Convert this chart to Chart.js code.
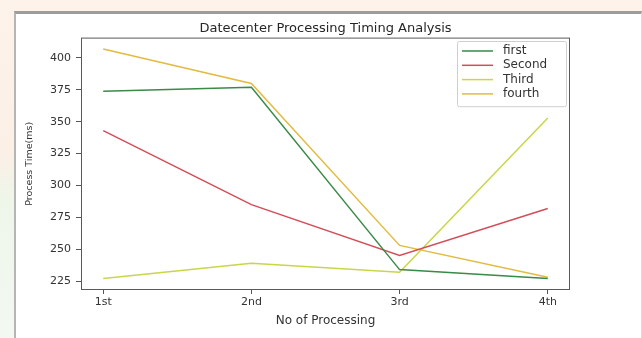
<!DOCTYPE html>
<html>
<head>
<meta charset="utf-8">
<script src="https://cdn.jsdelivr.net/npm/chart.js@4"></script>
<style>
  html, body { margin: 0; padding: 0; background: #fff; }
  body { width: 642px; height: 338px; position: relative; overflow: hidden;
         background: linear-gradient(to bottom, #fdf3ea 0%, #fbefe6 45%, #eef6ea 60%, #f3f8f1 100%); }
  #frame { position: absolute; left: 14px; top: 11px; width: 625px; height: 324px;
           background: #fff; border-top: 3px solid #9c9c9c; border-left: 2px solid #b5b5b5;
           border-right: 1px solid #dcdcdc; border-bottom: 1px solid #e4e4e4; }
  #chart { position: absolute; left: 0; top: 0; }
</style>
</head>
<body>
<div id="frame"></div>
<canvas id="chart" width="642" height="338"></canvas>
<script>
// Werte
const categories = ['1st', '2nd', '3rd', '4th'];
const first = [374, 377, 234, 227];
const second = [343, 285, 245, 282];
const third = [227, 239, 232, 353];
const fourth = [407, 380, 253, 228];
const seriesNames = ['first', 'Second', 'Third', 'fourth'];
const yTickStep = 25;

const font = "'DejaVu Sans', sans-serif";

function points(values) {
    return values.map((v, i) => ({ x: i, y: v }));
}

// Rahmen der Achsen und Legende im matplotlib-Stil
const boxPlugin = {
    id: 'box',
    afterDraw(chart) {
        const { ctx, chartArea: a } = chart;
        ctx.save();
        ctx.strokeStyle = '#5a5a5a';
        ctx.lineWidth = 1;
        ctx.strokeRect(a.left + 0.5, a.top + 0.5, a.right - a.left - 1, a.bottom - a.top - 1);

        // Legende
        const sets = chart.data.datasets;
        const bx = 457, by = 41, bw = 109, rowH = 14.3;
        const bh = sets.length * rowH + 8;
        ctx.fillStyle = 'rgba(255,255,255,0.85)';
        ctx.strokeStyle = '#cfcfcf';
        ctx.beginPath();
        ctx.roundRect(bx + 0.5, by + 0.5, bw, bh, 2);
        ctx.fill();
        ctx.stroke();
        ctx.font = '12px ' + font;
        ctx.textBaseline = 'middle';
        sets.forEach((ds, i) => {
            const y = by + 10 + i * rowH;
            ctx.strokeStyle = ds.borderColor;
            ctx.lineWidth = 1.5;
            ctx.beginPath();
            ctx.moveTo(bx + 5, y);
            ctx.lineTo(bx + 36, y);
            ctx.stroke();
            ctx.fillStyle = '#333';
            ctx.fillText(ds.label, bx + 46, y);
        });
        ctx.restore();
    }
};

new Chart(document.getElementById('chart'), {
    type: 'line',
    data: {
        datasets: [
            { label: seriesNames[0], data: points(first), borderColor: '#3a8a48' },
            { label: seriesNames[1], data: points(second), borderColor: '#d44d58' },
            { label: seriesNames[2], data: points(third), borderColor: '#c8d648' },
            { label: seriesNames[3], data: points(fourth), borderColor: '#e2bb40' }
        ]
    },
    options: {
        responsive: false,
        animation: false,
        layout: { padding: { left: 20, top: 12, right: 72, bottom: 6 } },
        elements: {
            line: { borderWidth: 1.5, tension: 0 },
            point: { radius: 0 }
        },
        plugins: {
            legend: { display: false },
            tooltip: { enabled: false },
            title: {
                display: true,
                fullSize: false,
                text: 'Datecenter Processing Timing Analysis',
                color: '#262626',
                font: { family: font, size: 13, weight: 'normal' },
                padding: { top: 9, bottom: 1 }
            }
        },
        scales: {
            x: {
                type: 'linear',
                min: -0.15,
                max: 3.15,
                afterFit(scale) { scale.height = 42; },
                border: { display: false },
                grid: { drawOnChartArea: false, drawTicks: true, tickLength: 4, color: '#555' },
                ticks: {
                    stepSize: 1,
                    includeBounds: false,
                    padding: 2,
                    color: '#333',
                    font: { family: font, size: 11 },
                    callback: v => categories[v]
                },
                title: {
                    display: true,
                    text: 'No of Processing',
                    color: '#333',
                    font: { family: font, size: 12 },
                    padding: { top: 0, bottom: 4 }
                }
            },
            y: {
                min: 218,
                max: 416,
                afterFit(scale) { scale.width = 61; },
                border: { display: false },
                grid: { drawOnChartArea: false, drawTicks: true, tickLength: 5, color: '#555' },
                ticks: {
                    stepSize: yTickStep,
                    includeBounds: false,
                    padding: 5,
                    color: '#333',
                    font: { family: font, size: 11 }
                },
                title: {
                    display: true,
                    text: 'Process Time(ms)',
                    color: '#333',
                    font: { family: font, size: 9.5 },
                    padding: { top: 4, bottom: 0 }
                }
            }
        }
    },
    plugins: [boxPlugin]
});
</script>
</body>
</html>
